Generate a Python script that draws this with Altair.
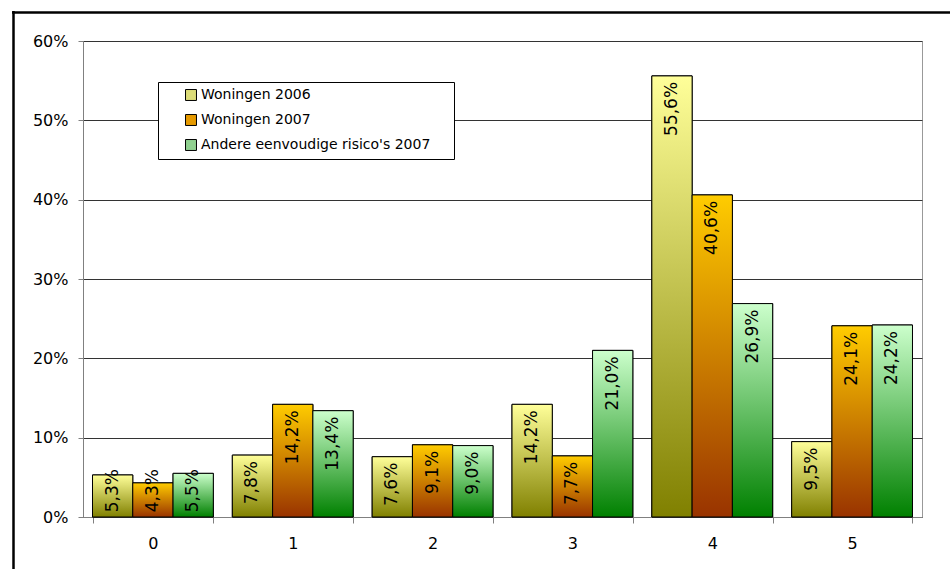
import altair as alt
import pandas as pd

categories = ["0", "1", "2", "3", "4", "5"]
series = ["Woningen 2006", "Woningen 2007", "Andere eenvoudige risico's 2007"]
woningen_2006 = [0.053, 0.078, 0.076, 0.142, 0.556, 0.095]
woningen_2007 = [0.043, 0.142, 0.091, 0.077, 0.406, 0.241]
andere_2007 = [0.055, 0.134, 0.090, 0.210, 0.269, 0.242]
y_ticks = [0.0, 0.1, 0.2, 0.3, 0.4, 0.5, 0.6]

top_colors = ["#FFFF99", "#FFCC00", "#CCFFCC"]
bottom_colors = ["#808000", "#993300", "#008000"]
legend_colors = ["#DCDC78", "#E69A00", "#8FD08F"]

rows = []
for s, vals in zip(series, [woningen_2006, woningen_2007, andere_2007]):
    for c, v in zip(categories, vals):
        rows.append({"category": c, "series": s, "value": v,
                     "label": f"{v*100:.1f}".replace(".", ",") + "%"})
df = pd.DataFrame(rows)

W, H = 839, 476
FONT = "DejaVu Sans"

x_enc = alt.X("category:N", sort=categories,
              scale=alt.Scale(domain=categories, paddingInner=0.136, paddingOuter=0.068),
              axis=alt.Axis(title=None, labelAngle=0, tickBand="extent", tickSize=6,
                            labelPadding=12, labelFontSize=16, labelFont=FONT,
                            labelColor="black", domainColor="#808080",
                            tickColor="#808080", grid=False))
xo_enc = alt.XOffset("series:N", sort=series,
                     scale=alt.Scale(domain=series, paddingInner=0, paddingOuter=0))
y_axis = alt.Axis(title=None, format=".0%", values=y_ticks, tickSize=5,
                  labelPadding=10, labelFontSize=16, labelFont=FONT,
                  labelColor="black", domainColor="#808080", tickColor="#808080",
                  grid=True, gridColor="#333333", gridWidth=1)
y_scale = alt.Scale(domain=[0, 0.6], nice=False)

base = alt.Chart(df).mark_bar(stroke="black", strokeWidth=1).encode(
    x=x_enc, xOffset=xo_enc,
    y=alt.Y("value:Q", scale=y_scale, axis=y_axis),
    color=alt.Color("series:N", sort=series,
                    scale=alt.Scale(domain=series, range=legend_colors),
                    legend=alt.Legend(title="\u00a0", titleOrient="right", titlePadding=18,
                                      titleFontSize=14, titleFont=FONT,
                                      orient="none", legendX=75, legendY=41,
                                      strokeColor="black", fillColor="white",
                                      padding=6, symbolType="square", symbolSize=120,
                                      symbolStrokeColor="black", symbolStrokeWidth=1,
                                      labelFontSize=14, labelFont=FONT, labelColor="black",
                                      labelLimit=500,
                                      rowPadding=9, symbolOffset=20, labelOffset=3)),
)

layers = [base]
for s, top, bottom in zip(series, top_colors, bottom_colors):
    grad = alt.Gradient(gradient="linear",
                        stops=[alt.GradientStop(color=top, offset=0),
                               alt.GradientStop(color=bottom, offset=1)],
                        x1=0, x2=0, y1=0, y2=1)
    layers.append(
        alt.Chart(df).transform_filter(alt.datum.series == s)
        .mark_bar(fill=grad, stroke="black", strokeWidth=1)
        .encode(x=x_enc, xOffset=xo_enc,
                y=alt.Y("value:Q", scale=y_scale, axis=y_axis))
    )

text = alt.Chart(df).transform_calculate(
    labelpos="max(datum.value, 0.068)"
).mark_text(angle=270, align="right", baseline="middle", dx=-6,
            fontSize=17, font=FONT, color="black").encode(
    x=x_enc, xOffset=xo_enc,
    y=alt.Y("labelpos:Q", scale=y_scale, axis=y_axis),
    text="label:N",
)
layers.append(text)

frame_df = pd.DataFrame({"d": [0]})
frame_left = alt.Chart(frame_df).mark_rule(color="black", strokeWidth=2.5).encode(
    x=alt.value(-69.5), y=alt.value(-30), y2=alt.value(H + 80))
frame_top = alt.Chart(frame_df).mark_rule(color="black", strokeWidth=2.5).encode(
    x=alt.value(-71), x2=alt.value(W + 60), y=alt.value(-28.5))
layers += [frame_left, frame_top]

chart = alt.layer(*layers).properties(
    width=W, height=H,
    autosize=alt.AutoSizeParams(type="none"),
    padding={"left": 83, "top": 41, "right": 28, "bottom": 52},
    background="white",
).configure_view(stroke="#999999", strokeWidth=1)

chart.save("out.html", embed_options={"renderer": "svg", "actions": False})
